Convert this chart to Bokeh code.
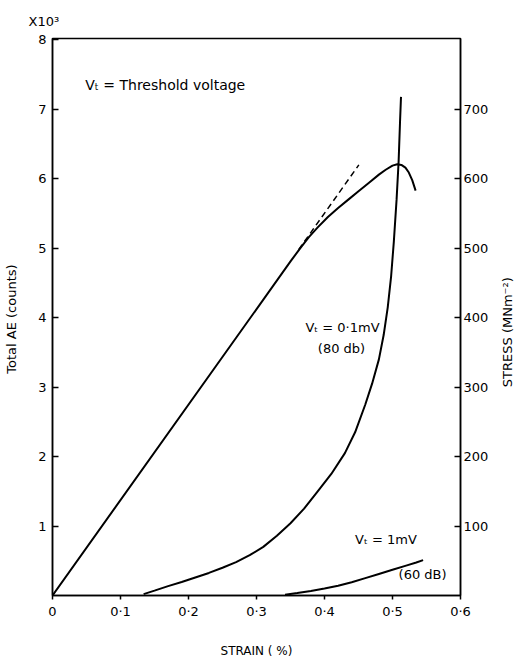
import math
from bokeh.plotting import figure
from bokeh.models import Range1d, LinearAxis, FixedTicker, Label
from bokeh.embed import file_html
from bokeh.resources import INLINE

# ---- data ----
# stress-strain curve (stress in MN m^-2, right axis)
stress_strain = [0.0, 0.35, 0.365, 0.377, 0.39, 0.405, 0.42, 0.435, 0.45, 0.465, 0.48, 0.49,
                 0.5, 0.507, 0.513, 0.519, 0.524, 0.529, 0.534]
stress_val = [0, 481, 501, 516, 530, 545, 558, 570, 582, 594, 606, 613,
              619, 621, 620, 616, 609, 598, 583]
# linear extrapolation (dashed)
dash_strain = [0.362, 0.4505]
dash_stress = [498, 620]
# total AE, Vt = 0.1 mV (80 db), counts x 10^3
ae80_strain = [0.134, 0.15, 0.17, 0.19, 0.21, 0.23, 0.25, 0.27, 0.29, 0.31, 0.33, 0.35, 0.37,
               0.39, 0.41, 0.43, 0.445, 0.46, 0.47, 0.48, 0.487, 0.493, 0.498, 0.502, 0.506,
               0.509, 0.511, 0.5125]
ae80_val = [0.02, 0.07, 0.135, 0.195, 0.26, 0.325, 0.40, 0.48, 0.58, 0.70, 0.86, 1.04, 1.25,
            1.50, 1.75, 2.05, 2.35, 2.75, 3.05, 3.4, 3.75, 4.15, 4.6, 5.1, 5.7,
            6.25, 6.8, 7.18]
# total AE, Vt = 1 mV (60 dB)
ae60_strain = [0.342, 0.36, 0.38, 0.40, 0.42, 0.44, 0.46, 0.48, 0.50, 0.52, 0.535, 0.545]
ae60_val = [0.01, 0.035, 0.065, 0.10, 0.14, 0.19, 0.25, 0.31, 0.37, 0.43, 0.475, 0.51]

x_ticks = [0, 0.1, 0.2, 0.3, 0.4, 0.5, 0.6]
x_tick_labels = ["0", "0·1", "0·2", "0·3", "0·4", "0·5", "0·6"]
left_ticks = [1, 2, 3, 4, 5, 6, 7, 8]
right_ticks = [100, 200, 300, 400, 500, 600, 700]
right_title = "STRESS (MNm⁻²)"

FONT = "DejaVu Sans"

p = figure(width=530, height=660, output_backend="svg", toolbar_location=None,
           x_range=Range1d(0, 0.6), y_range=Range1d(0, 8.02),
           min_border_left=52, min_border_right=70, min_border_top=38, min_border_bottom=59)
p.background_fill_color = "white"
p.border_fill_color = "white"
p.outline_line_color = "black"
p.outline_line_width = 1.5
p.xgrid.visible = False
p.ygrid.visible = False

# multiplier shown above the left axis
p.title.text = "X10³"
p.title.align = "left"
p.title.offset = -24
p.title.standoff = 20
p.title.text_font = FONT
p.title.text_font_size = "13px"
p.title.text_font_style = "normal"
p.title.text_color = "black"

p.extra_y_ranges = {"stress": Range1d(0, 802)}

def style_axis(ax):
    ax.axis_line_color = "black"
    ax.axis_line_width = 1.5
    ax.major_tick_line_color = "black"
    ax.major_tick_line_width = 1.5
    ax.minor_tick_line_color = None
    ax.major_label_text_font = FONT
    ax.major_label_text_font_size = "13px"
    ax.major_label_text_color = "black"
    ax.axis_label_text_font = FONT
    ax.axis_label_text_font_size = "13px"
    ax.axis_label_text_font_style = "normal"
    ax.axis_label_text_color = "black"

xa = p.xaxis[0]
style_axis(xa)
xa.ticker = FixedTicker(ticks=x_ticks)
xa.major_label_overrides = {t: l for t, l in zip(x_ticks, x_tick_labels)}
xa.major_tick_in = 0
xa.major_tick_out = 4
xa.major_label_standoff = 4
xa.axis_label = "STRAIN ( %)"
xa.axis_label_text_font_size = "12px"
xa.axis_label_standoff = 22

ya = p.yaxis[0]
style_axis(ya)
ya.ticker = FixedTicker(ticks=left_ticks)
ya.major_tick_in = 6
ya.major_tick_out = 0
ya.major_label_standoff = 6
ya.axis_label = "Total  AE (counts)"
ya.axis_label_standoff = 16

ra = LinearAxis(y_range_name="stress")
style_axis(ra)
ra.ticker = FixedTicker(ticks=right_ticks)
ra.major_tick_in = 6
ra.major_tick_out = 0
ra.major_label_standoff = 3
p.add_layout(ra, "right")

# right-hand axis title: a second, line-less axis whose single tick label
# carries the title, turned to read from bottom to top
rt = LinearAxis(y_range_name="stress")
style_axis(rt)
rt.axis_line_color = None
rt.major_tick_line_color = None
rt.major_tick_in = 0
rt.major_tick_out = 0
rt.ticker = FixedTicker(ticks=[300])
rt.major_label_overrides = {300: right_title}
rt.major_label_orientation = math.pi / 2
rt.major_label_standoff = 16
p.add_layout(rt, "right")

# curves
p.line(stress_strain, stress_val, y_range_name="stress", line_color="black", line_width=2)
p.line(dash_strain, dash_stress, y_range_name="stress", line_color="black", line_width=1.5, line_dash="6 4")
p.line(ae80_strain, ae80_val, line_color="black", line_width=2)
p.line(ae60_strain, ae60_val, line_color="black", line_width=2)

def lab(x, y, t, size="13px", align="left"):
    p.add_layout(Label(x=x, y=y, text=t, text_font=FONT, text_font_size=size,
                       text_color="black", text_align=align, text_baseline="middle"))

lab(0.048, 7.35, "Vₜ = Threshold  voltage", "14px")
lab(0.372, 3.86, "Vₜ = 0·1mV")
lab(0.425, 3.55, "(80 db)", align="center")
lab(0.445, 0.80, "Vₜ = 1mV")
lab(0.509, 0.30, "(60 dB)")

open("out.html", "w").write(file_html(p, INLINE))
